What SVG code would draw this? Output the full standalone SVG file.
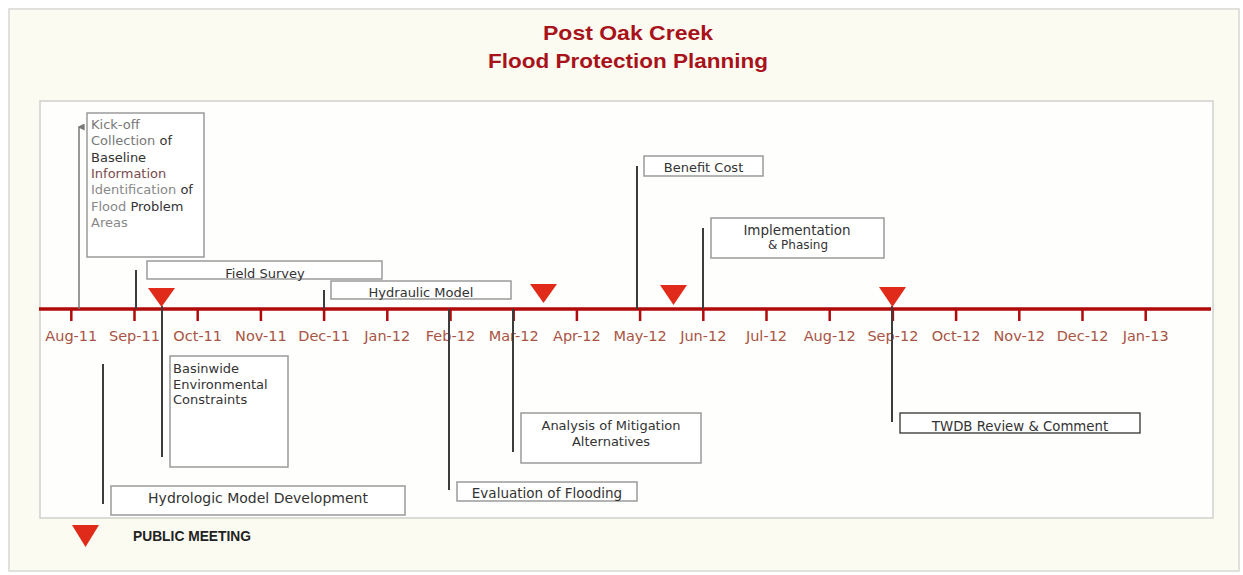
<svg xmlns="http://www.w3.org/2000/svg" width="1243" height="575" viewBox="0 0 1243 575">
  <defs>
    <style>
      .title { font-family: "Liberation Sans", Arial, sans-serif; font-weight: bold; font-size: 21px; fill: #a8121a; }
      .month { font-family: "DejaVu Sans", sans-serif; font-size: 14.5px; fill: #a85444; text-anchor: middle; }
      .lbl { font-family: "DejaVu Sans", sans-serif; font-size: 13px; fill: #333; }
      .mid { text-anchor: middle; }
      .box { fill: #ffffff; stroke: #9a9a9a; stroke-width: 1.5; }
      .tick { stroke: #b00a0a; stroke-width: 2.5; }
      .conn { stroke: #3c3c3c; stroke-width: 2; fill: none; }
      .meet { fill: #e02a1a; }
    </style>
    <marker id="arrowhead" viewBox="0 0 10 10" refX="5" refY="2" markerWidth="7" markerHeight="7" orient="auto-start-reverse" markerUnits="userSpaceOnUse">
      <path d="M0,10 L5,0 L10,10 Z" fill="#777"/>
    </marker>
  </defs>

  <!-- page and panel -->
  <rect x="9" y="9" width="1230" height="562" fill="#fcfbf2" stroke="#d8d8d2" stroke-width="1.5"/>
  <rect x="40" y="101" width="1173" height="417" fill="#fefefc" stroke="#d0d0cc" stroke-width="1.5"/>

  <!-- title -->
  <text class="title" x="628" y="40" text-anchor="middle" textLength="170" lengthAdjust="spacingAndGlyphs">Post Oak Creek</text>
  <text class="title" x="628" y="68" text-anchor="middle" textLength="280" lengthAdjust="spacingAndGlyphs">Flood Protection Planning</text>

  <!-- time axis -->
  <g id="axis">
    <line x1="39" y1="309" x2="1211" y2="309" stroke="#b00a0a" stroke-width="3.5"/>
    <g class="tick">
      <line x1="71.3" y1="309" x2="71.3" y2="321"/>
      <line x1="134.5" y1="309" x2="134.5" y2="321"/>
      <line x1="197.7" y1="309" x2="197.7" y2="321"/>
      <line x1="260.9" y1="309" x2="260.9" y2="321"/>
      <line x1="324.1" y1="309" x2="324.1" y2="321"/>
      <line x1="387.3" y1="309" x2="387.3" y2="321"/>
      <line x1="450.5" y1="309" x2="450.5" y2="321"/>
      <line x1="513.7" y1="309" x2="513.7" y2="321"/>
      <line x1="576.9" y1="309" x2="576.9" y2="321"/>
      <line x1="640.1" y1="309" x2="640.1" y2="321"/>
      <line x1="703.3" y1="309" x2="703.3" y2="321"/>
      <line x1="766.5" y1="309" x2="766.5" y2="321"/>
      <line x1="829.7" y1="309" x2="829.7" y2="321"/>
      <line x1="892.9" y1="309" x2="892.9" y2="321"/>
      <line x1="956.1" y1="309" x2="956.1" y2="321"/>
      <line x1="1019.3" y1="309" x2="1019.3" y2="321"/>
      <line x1="1082.5" y1="309" x2="1082.5" y2="321"/>
      <line x1="1145.7" y1="309" x2="1145.7" y2="321"/>
    </g>
    <g class="month">
      <text x="71.3" y="341">Aug-11</text>
      <text x="134.5" y="341">Sep-11</text>
      <text x="197.7" y="341">Oct-11</text>
      <text x="260.9" y="341">Nov-11</text>
      <text x="324.1" y="341">Dec-11</text>
      <text x="387.3" y="341">Jan-12</text>
      <text x="450.5" y="341">Feb-12</text>
      <text x="513.7" y="341">Mar-12</text>
      <text x="576.9" y="341">Apr-12</text>
      <text x="640.1" y="341">May-12</text>
      <text x="703.3" y="341">Jun-12</text>
      <text x="766.5" y="341">Jul-12</text>
      <text x="829.7" y="341">Aug-12</text>
      <text x="892.9" y="341">Sep-12</text>
      <text x="956.1" y="341">Oct-12</text>
      <text x="1019.3" y="341">Nov-12</text>
      <text x="1082.5" y="341">Dec-12</text>
      <text x="1145.7" y="341">Jan-13</text>
    </g>
  </g>

  <!-- leader lines from the axis to each task box -->
  <g id="connectors">
    <line x1="79" y1="309" x2="79" y2="127" stroke="#777" stroke-width="1.5" marker-end="url(#arrowhead)"/>
    <line class="conn" x1="136" y1="270" x2="136" y2="309"/>
    <line class="conn" x1="324" y1="290" x2="324" y2="309"/>
    <line class="conn" x1="637" y1="166" x2="637" y2="309"/>
    <line class="conn" x1="703" y1="228" x2="703" y2="309"/>
    <line class="conn" x1="162" y1="306" x2="162" y2="457"/>
    <line class="conn" x1="103" y1="364" x2="103" y2="504"/>
    <line class="conn" x1="449" y1="309" x2="449" y2="490"/>
    <line class="conn" x1="513" y1="309" x2="513" y2="452"/>
    <line class="conn" x1="892" y1="306" x2="892" y2="422"/>
  </g>

  <!-- public meeting markers -->
  <g id="meetings">
    <polygon class="meet" points="148,288 175,288 161.5,307"/>
    <polygon class="meet" points="530,284 557,284 543.5,303"/>
    <polygon class="meet" points="660,285 687,285 673.5,305"/>
    <polygon class="meet" points="879,287 906,287 892.5,307"/>
  </g>

  <g id="kickoff">
    <rect class="box" x="87" y="113" width="117" height="144"/>
    <text class="lbl" x="91" y="129" fill="#555">
      <tspan x="91" fill="#777">Kick-off</tspan>
      <tspan x="91" dy="16.3"><tspan fill="#777">Collection</tspan> of</tspan>
      <tspan x="91" dy="16.3">Baseline</tspan>
      <tspan x="91" dy="16.3" fill="#7a4a4a">Information</tspan>
      <tspan x="91" dy="16.3"><tspan fill="#888">Identification</tspan> of</tspan>
      <tspan x="91" dy="16.3"><tspan fill="#888">Flood</tspan> Problem</tspan>
      <tspan x="91" dy="16.3" fill="#888">Areas</tspan>
    </text>
  </g>

  <g id="field-survey">
    <rect class="box" x="147" y="261" width="235" height="18"/>
    <text class="lbl mid" x="265" y="277.5" fill="#666">Field Survey</text>
  </g>

  <g id="hydraulic-model">
    <rect class="box" x="331" y="281" width="180" height="18"/>
    <text class="lbl mid" x="421" y="297" fill="#666">Hydraulic Model</text>
  </g>

  <g id="benefit-cost">
    <rect class="box" x="644" y="156" width="119" height="20"/>
    <text class="lbl mid" x="703.5" y="172" fill="#555">Benefit Cost</text>
  </g>

  <g id="implementation">
    <rect class="box" x="711" y="218" width="173" height="40"/>
    <text class="lbl mid" x="797" y="235" style="font-size:13.5px" fill="#222">Implementation</text>
    <text class="lbl mid" x="798" y="248.5" style="font-size:12px" fill="#222">&amp; Phasing</text>
  </g>

  <g id="basinwide">
    <rect class="box" x="170" y="356" width="118" height="111"/>
    <text class="lbl" x="173" y="373" fill="#222">
      <tspan x="173">Basinwide</tspan>
      <tspan x="173" dy="15.7">Environmental</tspan>
      <tspan x="173" dy="15.7">Constraints</tspan>
    </text>
  </g>

  <g id="hydrologic-model">
    <rect class="box" x="111" y="486" width="294" height="29"/>
    <text class="lbl mid" x="258" y="503" style="font-size:14px" fill="#333">Hydrologic Model Development</text>
  </g>

  <g id="evaluation">
    <rect class="box" x="457" y="482" width="180" height="19"/>
    <text class="lbl mid" x="547" y="498" style="font-size:13.5px" fill="#666">Evaluation of Flooding</text>
  </g>

  <g id="mitigation">
    <rect class="box" x="521" y="413" width="180" height="50"/>
    <text class="lbl mid" x="611" y="430" fill="#333">Analysis of Mitigation</text>
    <text class="lbl mid" x="611" y="446" fill="#333">Alternatives</text>
  </g>

  <g id="twdb-review">
    <rect x="900" y="413" width="240" height="20" fill="#ffffff" stroke="#333" stroke-width="1.3"/>
    <text class="lbl mid" x="1020" y="431" style="font-size:13.3px" fill="#222">TWDB Review &amp; Comment</text>
  </g>

  <!-- legend -->
  <g id="legend">
    <polygon class="meet" points="72,525 99,525 85.5,547"/>
    <text x="133" y="541" font-family="'Liberation Sans', Arial, sans-serif" font-weight="bold" font-size="14" fill="#222" textLength="118" lengthAdjust="spacingAndGlyphs">PUBLIC MEETING</text>
  </g>
</svg>
